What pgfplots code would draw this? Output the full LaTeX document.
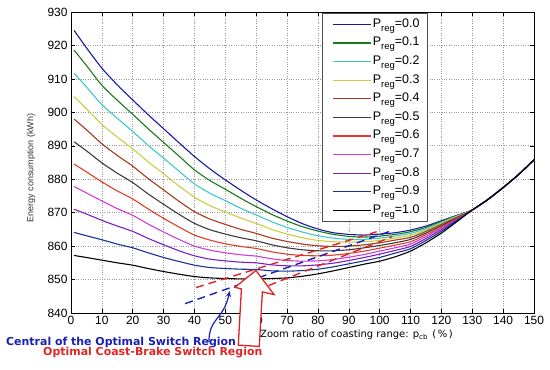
\documentclass[border=0pt]{standalone}
\usepackage{fontspec}
\setmainfont{Liberation Sans}
\newfontfamily\dejavu{DejaVu Sans}
\usepackage{pgfplots}
\pgfplotsset{compat=1.18}
\usepackage{pgfplotstable}
\usetikzlibrary{arrows.meta}

\definecolor{c0}{rgb}{0.10,0.10,0.65}
\definecolor{c1}{rgb}{0.10,0.48,0.10}
\definecolor{c2}{rgb}{0.25,0.78,0.78}
\definecolor{c3}{rgb}{0.80,0.80,0.25}
\definecolor{c4}{rgb}{0.66,0.22,0.12}
\definecolor{c5}{rgb}{0.23,0.23,0.23}
\definecolor{c6}{rgb}{0.88,0.24,0.16}
\definecolor{c7}{rgb}{0.82,0.24,0.82}
\definecolor{c8}{rgb}{0.48,0.12,0.78}
\definecolor{c9}{rgb}{0.10,0.20,0.58}
\definecolor{c10}{rgb}{0,0,0}
\definecolor{annblue}{rgb}{0.10,0.12,0.72}
\definecolor{annred}{rgb}{0.88,0.14,0.14}

\pgfplotstableread{
x   c0    c1    c2    c3    c4    c5    c6    c7    c8    c9    c10
1   924.5 918.6 911.7 904.7 898.0 891.2 884.5 877.8 871.0 864.1 857.2
5   919.3 914.0 907.6 901.1 894.8 888.5 882.2 875.9 869.6 863.1 856.6
10  913.2 908.1 902.3 896.4 890.6 884.9 879.2 873.5 867.7 861.9 855.8
15  908.2 903.6 898.2 892.6 887.1 881.8 876.5 871.2 866.0 860.6 855.0
20  903.7 899.4 894.3 889.1 883.9 879.0 874.1 869.2 864.4 859.5 854.3
25  899.3 895.1 890.1 885.2 880.2 875.6 871.1 866.6 862.3 858.0 853.3
30  895.1 891.0 886.3 881.6 876.8 872.5 868.3 864.2 860.4 856.6 852.4
35  890.9 886.9 882.4 878.0 873.4 869.5 865.7 862.0 858.6 855.4 851.6
40  886.8 882.8 878.6 874.6 870.3 866.8 863.3 860.0 857.1 854.3 850.9
45  883.1 879.6 875.8 872.1 868.1 864.9 861.8 858.8 856.1 853.6 850.5
50  879.8 877.0 873.6 870.2 866.5 863.6 860.7 858.0 855.6 853.3 850.3
55  876.7 874.3 871.3 868.4 865.0 862.5 859.9 857.4 855.2 853.1 850.2
60  873.8 871.8 869.3 866.8 863.8 861.6 859.3 857.0 855.0 853.0 850.2
65  871.2 869.5 867.3 865.0 862.4 860.4 858.3 856.2 854.4 852.6 850.3
70  868.8 867.5 865.6 863.6 861.4 859.5 857.6 855.7 854.1 852.5 850.5
75  866.7 865.8 864.2 862.5 860.6 858.9 857.2 855.5 854.1 852.7 851.0
80  865.1 864.5 863.1 861.7 860.1 858.6 857.1 855.6 854.4 853.1 851.7
85  864.0 863.5 862.4 861.3 859.9 858.6 857.3 856.0 854.9 853.8 852.6
90  863.5 862.9 862.0 861.2 860.0 858.9 857.8 856.7 855.7 854.7 853.6
95  863.3 862.7 862.0 861.3 860.4 859.5 858.5 857.5 856.6 855.6 854.6
100 863.6 863.0 862.4 861.7 861.0 860.2 859.4 858.5 857.6 856.6 855.5
105 864.0 863.5 863.0 862.4 861.8 861.0 860.3 859.5 858.7 857.9 856.8
110 864.8 864.3 863.8 863.2 862.6 862.0 861.3 860.6 859.9 859.2 858.5
115 866.0 865.6 865.2 864.8 864.4 863.9 863.4 862.9 862.3 861.7 861.0
120 867.6 867.4 867.1 866.8 866.5 866.1 865.7 865.3 864.9 864.4 863.9
125 869.2 869.1 869.0 868.8 868.6 868.4 868.2 868.0 867.8 867.6 867.3
130 870.8 870.8 870.8 870.8 870.8 870.8 870.8 870.8 870.8 870.8 870.8
135 873.9 873.9 873.9 873.9 873.9 873.9 873.9 873.9 873.9 873.9 873.9
140 877.5 877.5 877.5 877.5 877.5 877.5 877.5 877.5 877.5 877.5 877.5
145 881.4 881.4 881.4 881.4 881.4 881.4 881.4 881.4 881.4 881.4 881.4
150 885.8 885.8 885.8 885.8 885.8 885.8 885.8 885.8 885.8 885.8 885.8
}\datatable

\newcommand{\preg}[1]{P\raisebox{-4bp}{\fontsize{9.5}{9.5}\selectfont reg}=#1}

\begin{document}
\begin{tikzpicture}
\useasboundingbox (0,0) rectangle (550bp,370bp);
\begin{axis}[
  at={(71bp,57bp)}, anchor=south west,
  scale only axis, width=463bp, height=301bp,
  xmin=0, xmax=150, ymin=840, ymax=930,
  xtick={0,10,...,150}, ytick={840,850,...,930},
  grid=major,
  major grid style={gray!80, dotted, line width=0.6pt},
  tick align=inside, major tick length=4bp,
  tick style={black, line width=0.5pt},
  axis line style={line width=0.6pt},
  ticklabel style={font=\fontsize{12}{12}\selectfont},
  /pgf/number format/assume math mode=true,
  clip=false,
  legend cell align=left,
  legend image code/.code={\path (0bp,0bp); \draw[#1, line width=1.2pt] (4bp,0bp) -- (42bp,0bp);},
  legend style={at={(0.542,0.997)}, anchor=north west,
    draw=gray!60!black, line width=0.6pt, fill=white,
    inner xsep=6bp, inner ysep=2.5bp, row sep=1.1bp,
    font=\fontsize{12.5}{13}\selectfont,
    nodes={inner sep=1.5bp, text height=10bp, text depth=4.5bp}},
]
\addplot[c0, smooth, tension=0.4, line width=1.1pt] table[x=x, y=c0] {\datatable}; \addlegendentry{\preg{0.0}}
\addplot[c1, smooth, tension=0.4, line width=1.1pt] table[x=x, y=c1] {\datatable}; \addlegendentry{\preg{0.1}}
\addplot[c2, smooth, tension=0.4, line width=1.1pt] table[x=x, y=c2] {\datatable}; \addlegendentry{\preg{0.2}}
\addplot[c3, smooth, tension=0.4, line width=1.1pt] table[x=x, y=c3] {\datatable}; \addlegendentry{\preg{0.3}}
\addplot[c4, smooth, tension=0.4, line width=1.1pt] table[x=x, y=c4] {\datatable}; \addlegendentry{\preg{0.4}}
\addplot[c5, smooth, tension=0.4, line width=1.1pt] table[x=x, y=c5] {\datatable}; \addlegendentry{\preg{0.5}}
\addplot[c6, smooth, tension=0.4, line width=1.1pt] table[x=x, y=c6] {\datatable}; \addlegendentry{\preg{0.6}}
\addplot[c7, smooth, tension=0.4, line width=1.1pt] table[x=x, y=c7] {\datatable}; \addlegendentry{\preg{0.7}}
\addplot[c8, smooth, tension=0.4, line width=1.1pt] table[x=x, y=c8] {\datatable}; \addlegendentry{\preg{0.8}}
\addplot[c9, smooth, tension=0.4, line width=1.1pt] table[x=x, y=c9] {\datatable}; \addlegendentry{\preg{0.9}}
\addplot[c10, smooth, tension=0.4, line width=1.1pt] table[x=x, y=c10] {\datatable}; \addlegendentry{\preg{1.0}}
% switch-region guide lines
\addplot[annred, line width=1.4pt, dash pattern=on 8bp off 5bp, forget plot] coordinates {(40.5,847.6) (99,864.3)};
\addplot[annblue, line width=1.4pt, dash pattern=on 8bp off 5bp, forget plot] coordinates {(37,842.8) (103.5,864.5)};
\addplot[annred, line width=1.4pt, dash pattern=on 8bp off 5bp, forget plot] coordinates {(64,848.2) (104,862.8)};
% arrows
\draw[annred, line width=1.3pt, fill=white] (axis cs:59.9,852.7) -- (axis cs:65.8,845.5) -- (axis cs:62.0,846.3) -- (axis cs:61.0,830.0) -- (axis cs:54.2,830.4) -- (axis cs:55.2,847.2) -- (axis cs:53.1,847.7) -- cycle;
\draw[annblue, line width=1.2pt, -{Stealth[length=6bp,width=5bp]}] (axis cs:44.7,831.3) .. controls (axis cs:44.6,838.5) and (axis cs:49.5,838) .. (axis cs:51.4,846.6);
\end{axis}
\node[anchor=west, inner sep=0pt, font=\dejavu\fontsize{10}{10}\selectfont] at (260bp,35bp) {Zoom ratio of coasting range: p\raisebox{-2bp}{\fontsize{7}{7}\selectfont cb}\,\ (\,\%\,)};
\node[rotate=90, inner sep=0pt, font=\fontsize{9}{9}\selectfont, text=black!80] at (31bp,202bp) {Energy consumption (kWh)};
\node[anchor=west, inner sep=0pt, text=annblue, font=\dejavu\bfseries\fontsize{11}{11}\selectfont] at (6bp,27.5bp) {Central of the Optimal Switch Region};
\node[anchor=west, inner sep=0pt, text=annred, font=\dejavu\bfseries\fontsize{11}{11}\selectfont] at (43bp,17.5bp) {Optimal Coast-Brake Switch Region};
\end{tikzpicture}
\end{document}
